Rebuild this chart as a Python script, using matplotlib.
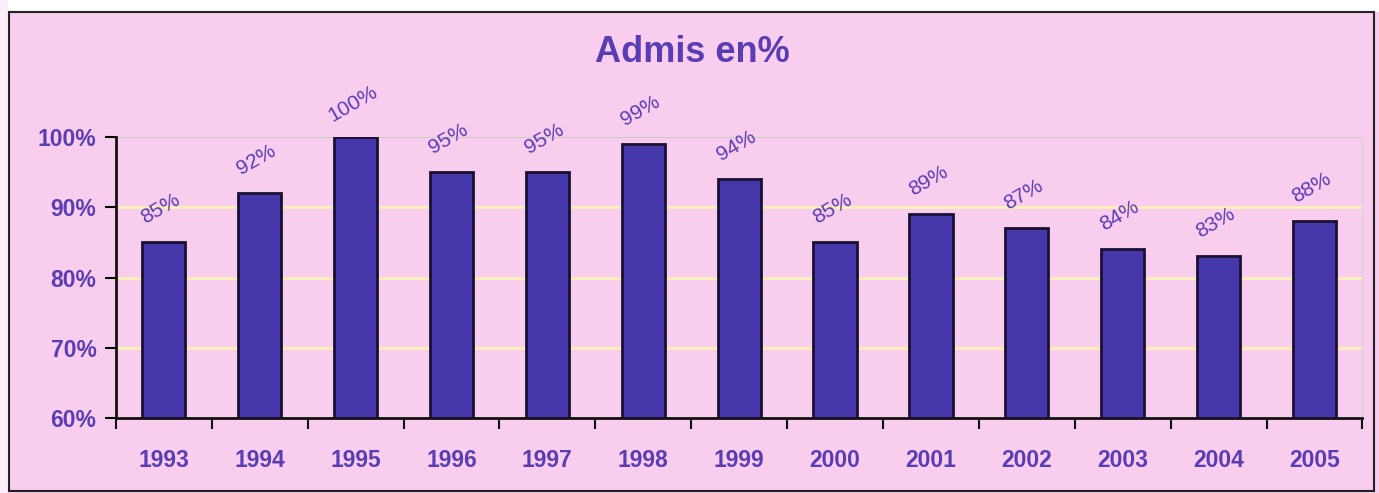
import matplotlib.pyplot as plt
from matplotlib.patches import Rectangle

years = ['1993', '1994', '1995', '1996', '1997', '1998', '1999',
         '2000', '2001', '2002', '2003', '2004', '2005']
admis = [85, 92, 100, 95, 95, 99, 94, 85, 89, 87, 84, 83, 88]
yticks = [60, 70, 80, 90, 100]

pink = '#f9cdee'
purple = '#5a3db3'
bar_col = '#4637aa'

plt.rcParams['font.family'] = ['Liberation Sans', 'DejaVu Sans']

fig = plt.figure(figsize=(13.79, 4.93), dpi=100)
fig.patch.set_facecolor(pink)

# white strip at top / left, then the black frame of the scanned box
fig.patches.append(Rectangle((0, 0.975), 1, 0.025, transform=fig.transFigure,
                             facecolor='white', edgecolor='none', zorder=0))
fig.patches.append(Rectangle((0, 0), 0.006, 1, transform=fig.transFigure,
                             facecolor='#fbeef8', edgecolor='none', zorder=0))
fig.patches.append(Rectangle((0.0065, 0.005), 0.99, 0.97, transform=fig.transFigure,
                             facecolor='none', edgecolor='#222222', linewidth=1.5, zorder=1))

ax = fig.add_axes([0.084, 0.152, 0.904, 0.570])
ax.set_facecolor(pink)

x = list(range(len(years)))
ax.bar(x, [v - 60 for v in admis], bottom=60, width=0.45, color=bar_col,
       edgecolor='#1a1030', linewidth=2, zorder=3)

for xi, v in zip(x, admis):
    ax.text(xi - 0.03, v + 4.8, '{}%'.format(v), rotation=30, ha='center', va='center',
            color=purple, fontsize=15, zorder=4, clip_on=False)

ax.set_xlim(-0.5, len(years) - 0.5)
ax.set_ylim(60, 100)

# gridlines
for g in [70, 80, 90]:
    ax.axhline(g, color='#fbf3b6', linewidth=2, zorder=1)
ax.axhline(100, color='#c9cfc4', linewidth=1.5, zorder=1)

ax.set_yticks(yticks)
ax.set_yticklabels(['{}%'.format(t) for t in yticks])
ax.set_xticks(x)
ax.set_xticklabels(years)
ax.set_xticks([i + 0.5 for i in range(-1, len(years))], minor=True)
ax.tick_params(axis='x', which='major', length=0, pad=22)
ax.tick_params(axis='x', which='minor', length=8, width=1.5, direction='out', colors='#111111')
ax.tick_params(axis='y', length=8, width=1.5, direction='out', pad=6)
for lab in ax.get_xticklabels() + ax.get_yticklabels():
    lab.set_color(purple)
    lab.set_fontsize(16.5)
    lab.set_fontweight('bold')

ax.spines['top'].set_visible(False)
ax.spines['right'].set_color('#d8d0d8')
ax.spines['left'].set_linewidth(2)
ax.spines['bottom'].set_linewidth(2)
ax.spines['left'].set_color('#111111')
ax.spines['bottom'].set_color('#111111')

fig.text(0.502, 0.893, 'Admis en%', ha='center', va='center', color=purple,
         fontsize=26, fontweight='bold')

fig.savefig('out.png', dpi=100, facecolor=fig.get_facecolor())
